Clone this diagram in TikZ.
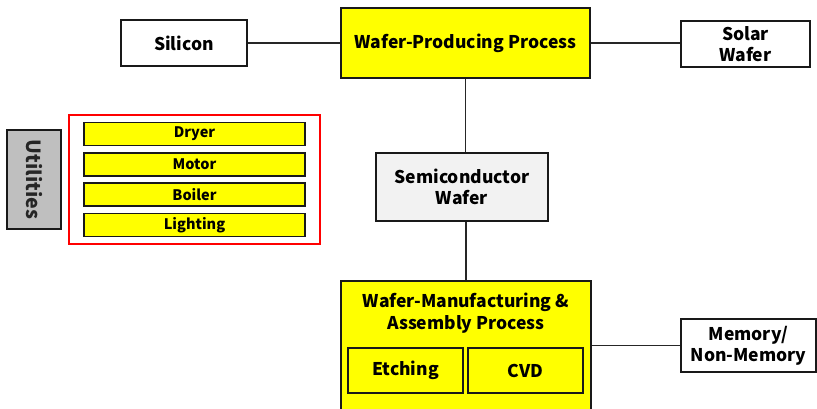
\documentclass[tikz,border=0pt]{standalone}
\usepackage{fontspec}
\setmainfont{Noto Sans CJK KR}
\usetikzlibrary{positioning}
\definecolor{boxyellow}{HTML}{FFFF00}
\definecolor{lightgrey}{HTML}{F2F2F2}
\definecolor{midgrey}{HTML}{BFBFBF}
\begin{document}
\begin{tikzpicture}[x=1pt, y=-1pt,
    mybox/.style={rectangle, draw=black!90, line width=1.8pt, fill=white, align=center, inner sep=0pt, font=\bfseries\fontsize{17.5}{21}\selectfont},
    mybar/.style={rectangle, draw=black!90, line width=1.7pt, fill=boxyellow, minimum width=221pt, minimum height=23pt, inner sep=0pt, font=\bfseries\fontsize{14.5}{16}\selectfont},
    myline/.style={line width=1.3pt, black!85}
]
    \useasboundingbox (0,0) rectangle (817,409);
    \clip (0,0) rectangle (817,409);

    % Top row
    \node[mybox, minimum width=126pt, minimum height=46pt] (silicon) at (184,43) {Silicon};
    \node[mybox, fill=boxyellow, minimum width=249pt, minimum height=70pt] (wpp) at (465.5,43) {Wafer-Producing Process};
    \node[mybox, minimum width=129pt, minimum height=46pt] (solar) at (745.5,44) {Solar\\Wafer};

    % Middle
    \node[mybox, fill=lightgrey, minimum width=172pt, minimum height=68pt] (semi) at (462,187) {Semiconductor\\Wafer};

    % Bottom process box
    \node[mybox, fill=boxyellow, minimum width=250pt, minimum height=139pt] (wma) at (466,350.5) {};
    \node[font=\bfseries\fontsize{17.5}{22.5}\selectfont, align=center] (wmatitle) at (466,313) {Wafer-Manufacturing \&\\Assembly Process};
    \node[mybox, fill=boxyellow, minimum width=115pt, minimum height=45pt] (etching) at (405.5,370.5) {Etching};
    \node[mybox, fill=boxyellow, minimum width=115pt, minimum height=45pt] (cvd) at (525.5,370.5) {CVD};
    \node[mybox, minimum width=135pt, minimum height=53pt] (memory) at (748.5,345.5) {Memory/\\Non-Memory};

    % Utilities
    \node[draw=red, line width=1.8pt, minimum width=251pt, minimum height=129pt, inner sep=0pt] (util) at (194.5,179.5) {};
    \node[mybar] (dryer) at (194.5,134) {Dryer};
    \node[mybar] (motor) at (194.5,164.5) {Motor};
    \node[mybar] (boiler) at (194.5,194.5) {Boiler};
    \node[mybar] (lighting) at (194.5,225) {Lighting};
    \node[mybox, fill=midgrey, minimum width=54pt, minimum height=99pt] (utilities) at (34,179.5) {};
    \node[rotate=-90, font=\bfseries\fontsize{19.5}{21}\selectfont, text=black!85] (utiltext) at (utilities) {Utilities};

    % Connectors
    \draw[myline] (silicon.east) -- (wpp.west |- silicon.east);
    \draw[myline] (wpp.east) -- (wpp.east -| solar.west);
    \draw[myline] (wpp.south) -- (wpp.south |- semi.north);
    \draw[myline] (semi.south -| wma.north) -- (wma.north);
    \draw[myline] (wma.east |- memory.west) -- (memory.west);
\end{tikzpicture}
\end{document}
